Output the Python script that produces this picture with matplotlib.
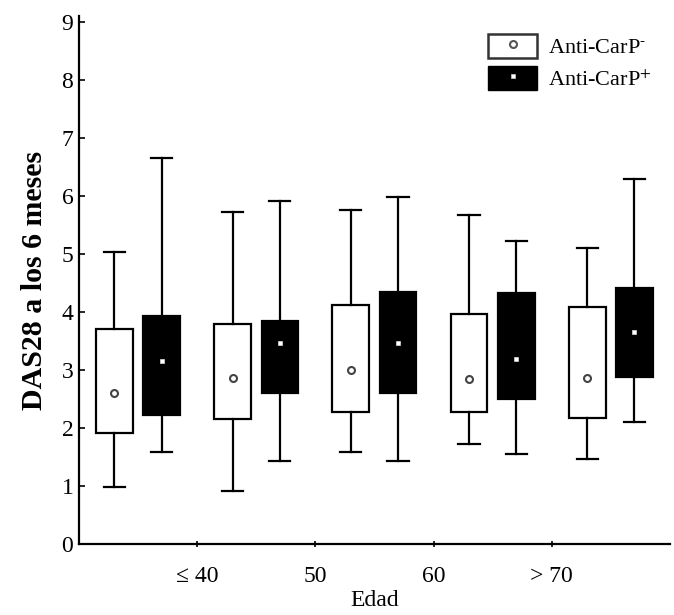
import matplotlib
matplotlib.use('Agg')
import matplotlib.pyplot as plt
from matplotlib.patches import Patch
from matplotlib.lines import Line2D

# ── Datos (DAS28 a los 6 meses por grupo de edad) ──────────
grupos   = ['<=40', '40-50', '50-60', '60-70', '>70']
etiq_x   = ['\u2264 40', '50', '60', '> 70']

# Anti-CarP-  (caja blanca)
neg_lo   = [0.98, 0.92, 1.59, 1.72, 1.47]
neg_q1   = [1.91, 2.15, 2.27, 2.27, 2.18]
neg_mid  = [2.61, 2.87, 3.01, 2.84, 2.87]
neg_q3   = [3.70, 3.80, 4.13, 3.97, 4.08]
neg_hi   = [5.03, 5.72, 5.75, 5.68, 5.11]

# Anti-CarP+  (caja negra)
pos_lo   = [1.59, 1.44, 1.44, 1.56, 2.11]
pos_q1   = [2.22, 2.61, 2.61, 2.51, 2.89]
pos_mid  = [3.16, 3.47, 3.47, 3.20, 3.66]
pos_q3   = [3.94, 3.85, 4.34, 4.32, 4.41]
pos_hi   = [6.66, 5.91, 5.99, 5.23, 6.30]

plt.rcParams['font.family'] = ['Liberation Serif', 'DejaVu Serif']
plt.rcParams['mathtext.fontset'] = 'stix'

def stats(lo, q1, mid, q3, hi):
    return [dict(whislo=a, q1=b, med=c, mean=c, q3=d, whishi=e, fliers=[])
            for a, b, c, d, e in zip(lo, q1, mid, q3, hi)]

fig = plt.figure(figsize=(6.74, 6.15), dpi=100)
ax = fig.add_axes([0.117, 0.115, 0.877, 0.859])

n = len(grupos)
pos_neg = [i + 0.30 for i in range(n)]
pos_pos = [i + 0.70 for i in range(n)]

lw = 1.6
comun = dict(widths=0.31, capwidths=0.18, patch_artist=True, showmeans=True,
             showfliers=False, manage_ticks=False,
             whiskerprops=dict(color='black', linewidth=lw),
             capprops=dict(color='black', linewidth=lw),
             medianprops=dict(linewidth=0))

ax.bxp(stats(neg_lo, neg_q1, neg_mid, neg_q3, neg_hi), positions=pos_neg,
       boxprops=dict(facecolor='white', edgecolor='black', linewidth=lw),
       meanprops=dict(marker='o', markersize=5, markerfacecolor='white',
                      markeredgecolor='#444444', markeredgewidth=1.5),
       **comun)
ax.bxp(stats(pos_lo, pos_q1, pos_mid, pos_q3, pos_hi), positions=pos_pos,
       boxprops=dict(facecolor='black', edgecolor='black', linewidth=lw),
       meanprops=dict(marker='s', markersize=3.5, markerfacecolor='white',
                      markeredgecolor='#dddddd', markeredgewidth=0.5),
       **comun)

ax.set_xlim(0, n)
ax.set_ylim(0, 9.1)
ax.set_xticks(range(1, n))
ax.set_xticklabels(etiq_x)
ax.set_yticks(range(0, 10))
ax.spines['top'].set_visible(False)
ax.spines['right'].set_visible(False)
for s in ['left', 'bottom']:
    ax.spines[s].set_linewidth(1.6)
ax.tick_params(axis='x', direction='inout', length=5, width=1.2, pad=13, labelsize=17)
ax.tick_params(axis='y', direction='in', length=4, width=1.2, pad=4, labelsize=17)

ax.set_xlabel('Edad', fontsize=17, labelpad=2)
ax.set_ylabel('DAS28 a los 6 meses', fontsize=21.5, fontweight='bold', labelpad=10)

h_neg = (Patch(facecolor='white', edgecolor='#333333', linewidth=1.8),
         Line2D([], [], linestyle='none', marker='o', markersize=5,
                markerfacecolor='white', markeredgecolor='#555555', markeredgewidth=1.5))
h_pos = (Patch(facecolor='black', edgecolor='black'),
         Line2D([], [], linestyle='none', marker='s', markersize=3,
                markerfacecolor='white', markeredgecolor='#cccccc', markeredgewidth=0.5))
ax.legend([h_neg, h_pos], ['Anti-CarP$^{\\text{-}}$', 'Anti-CarP$^{+}$'],
          loc='upper right', bbox_to_anchor=(1.0, 1.0), frameon=False,
          fontsize=16, handlelength=2.2, handleheight=1.3, handletextpad=0.5,
          labelspacing=0.35, borderaxespad=0.4)

fig.savefig('out.png', dpi=100)
